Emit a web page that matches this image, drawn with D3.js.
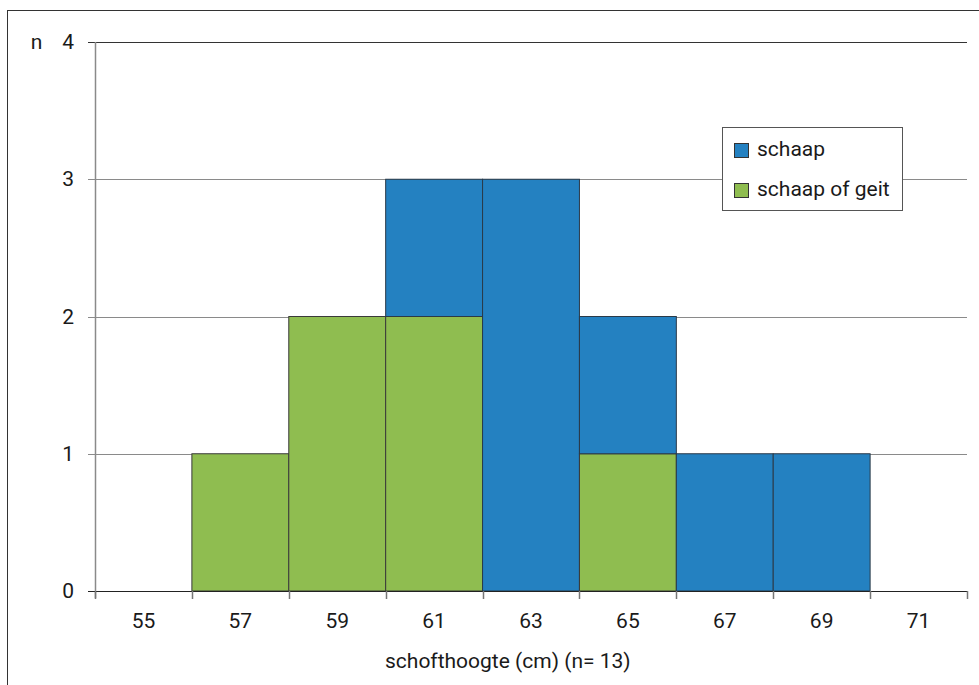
<!DOCTYPE html>
<html><head><meta charset="utf-8">
<script src="https://cdn.jsdelivr.net/npm/d3@7"></script>
<style>body{margin:0;background:#fff}svg{display:block}text{font-family:Roboto,"Noto Sans",sans-serif;fill:#1a1a1a}</style>
</head><body>
<script>
const bins = ["55","57","59","61","63","65","67","69","71"];
const schaapOfGeit = [0,1,2,2,0,1,0,0,0];
const schaap = [0,0,0,1,3,1,1,1,0];
const yTicks = [0,1,2,3,4];
const seriesNames = ["schaap","schaap of geit"];
const colors = {"schaap":"#2481c1","schaap of geit":"#8fbd50"};

const W=979,H=685,FS=21;
const svg=d3.select("body").append("svg").attr("width",W).attr("height",H);
svg.append("rect").attr("x",7.5).attr("y",10.5).attr("width",W+10).attr("height",H+10)
  .attr("fill","none").attr("stroke","#333").attr("stroke-width",1);

const L=95,R=967,T=42,B=591;
const x=d3.scaleBand().domain(bins).range([L,R]).padding(0);
const y=d3.scaleLinear().domain([0,4]).range([B,T]);

// gridlines
svg.append("g").selectAll("line").data(yTicks.filter(d=>d>0)).join("line")
  .attr("x1",L-7).attr("x2",R).attr("y1",d=>Math.round(y(d))+0.5).attr("y2",d=>Math.round(y(d))+0.5)
  .attr("stroke",d=>d===4?"#333":"#8a8a8a").attr("stroke-width",1.2);
// y axis line
svg.append("line").attr("x1",L+0.5).attr("x2",L+0.5).attr("y1",T).attr("y2",B+7).attr("stroke","#8a8a8a").attr("stroke-width",1.5);

// bars
const stack=bins.map((b,i)=>({bin:b,g:schaapOfGeit[i],s:schaap[i]}));
const g=svg.append("g");
stack.forEach(d=>{
  if(d.g>0) g.append("rect").attr("x",x(d.bin)).attr("width",x.bandwidth()).attr("y",y(d.g)).attr("height",y(0)-y(d.g))
    .attr("fill",colors["schaap of geit"]).attr("stroke","#3a3a3a").attr("stroke-width",1);
  if(d.s>0) g.append("rect").attr("x",x(d.bin)).attr("width",x.bandwidth()).attr("y",y(d.g+d.s)).attr("height",y(d.g)-y(d.g+d.s))
    .attr("fill",colors["schaap"]).attr("stroke","#2a3a48").attr("stroke-width",1);
});

// x axis
svg.append("line").attr("x1",L-7).attr("x2",R).attr("y1",B+0.5).attr("y2",B+0.5).attr("stroke","#222").attr("stroke-width",1.2);
const edges=bins.map(b=>x(b)).concat([R]);
svg.append("g").selectAll("line").data(edges).join("line")
  .attr("x1",d=>Math.round(d)+0.5).attr("x2",d=>Math.round(d)+0.5).attr("y1",B).attr("y2",B+8)
  .attr("stroke","#777").attr("stroke-width",1.5);
svg.append("g").selectAll("text").data(bins).join("text")
  .attr("x",d=>x(d)+x.bandwidth()/2).attr("y",628).attr("text-anchor","middle").attr("font-size",FS).text(d=>d);
svg.append("text").attr("x",385).attr("y",668).attr("text-anchor","start").attr("font-size",FS).text("schofthoogte (cm) (n= 13)");

// y labels
svg.append("g").selectAll("text").data(yTicks).join("text")
  .attr("x",74).attr("y",d=>y(d)+7).attr("text-anchor","end").attr("font-size",FS).text(d=>d);
svg.append("text").attr("x",36.5).attr("y",y(4)+7).attr("text-anchor","middle").attr("font-size",FS).text("n");

// legend
const lg=svg.append("g");
lg.append("rect").attr("x",722.5).attr("y",127.5).attr("width",180).attr("height",83).attr("fill","#fff").attr("stroke","#555");
seriesNames.forEach((n,i)=>{
  const yy=156+i*40;
  lg.append("rect").attr("x",734.5).attr("y",yy-12.5).attr("width",14).attr("height",14).attr("fill",colors[n]).attr("stroke","#333");
  lg.append("text").attr("x",757).attr("y",yy).attr("font-size",FS).text(n);
});
</script>
</body></html>
